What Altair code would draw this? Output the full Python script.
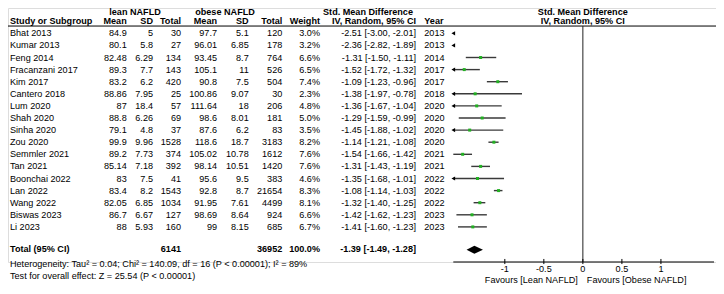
import altair as alt
import pandas as pd

# ---------------- data ----------------
studies = ["Bhat 2013", "Kumar 2013", "Feng 2014", "Fracanzani 2017", "Kim 2017",
           "Cantero 2018", "Lum 2020", "Shah 2020", "Sinha 2020", "Zou 2020",
           "Semmler 2021", "Tan 2021", "Boonchai 2022", "Lan 2022", "Wang 2022",
           "Biswas 2023", "Li 2023"]
lean_mean = [84.9, 80.1, 82.48, 89.3, 83.2, 88.86, 87, 88.8, 79.1, 99.9,
             89.2, 85.14, 83, 83.4, 82.05, 86.7, 88]
lean_sd = [5, 5.8, 6.29, 7.7, 6.2, 7.95, 18.4, 6.26, 4.8, 9.96,
           7.73, 7.18, 7.5, 8.2, 6.85, 6.67, 5.93]
lean_total = [30, 27, 134, 143, 420, 25, 57, 69, 37, 1528,
              374, 392, 41, 1543, 1034, 127, 160]
obese_mean = [97.7, 96.01, 93.45, 105.1, 90.8, 100.86, 111.64, 98.6, 87.6, 118.6,
              105.02, 98.14, 95.6, 92.8, 91.95, 98.69, 99]
obese_sd = [5.1, 6.85, 8.7, 11, 7.5, 9.07, 18, 8.01, 6.2, 18.7,
            10.78, 10.51, 9.5, 8.7, 7.61, 8.64, 8.15]
obese_total = [120, 178, 764, 526, 504, 30, 206, 181, 83, 3183,
               1612, 1420, 383, 21654, 4499, 924, 685]
weights = [3.0, 3.2, 6.6, 6.5, 7.4, 2.3, 4.8, 5.0, 3.5, 8.2,
           7.6, 7.6, 4.6, 8.3, 8.1, 6.6, 6.7]
smd = [-2.51, -2.36, -1.31, -1.52, -1.09, -1.38, -1.36, -1.29, -1.45, -1.14,
       -1.54, -1.31, -1.35, -1.08, -1.32, -1.42, -1.41]
ci_lo = [-3.00, -2.82, -1.50, -1.72, -1.23, -1.97, -1.67, -1.59, -1.88, -1.21,
         -1.66, -1.43, -1.68, -1.14, -1.40, -1.62, -1.60]
ci_hi = [-2.01, -1.89, -1.11, -1.32, -0.96, -0.78, -1.04, -0.99, -1.02, -1.08,
         -1.42, -1.19, -1.01, -1.03, -1.25, -1.23, -1.23]
years = [2013, 2013, 2014, 2017, 2017, 2018, 2020, 2020, 2020, 2020,
         2021, 2021, 2022, 2022, 2022, 2023, 2023]

total_lean = 6141
total_obese = 36952
total_weight = 100.0
total_smd, total_lo, total_hi = -1.39, -1.49, -1.28
heterogeneity = "Heterogeneity: Tau\u00b2 = 0.04; Chi\u00b2 = 140.09, df = 16 (P < 0.00001); I\u00b2 = 89%"
overall_test = "Test for overall effect: Z = 25.54 (P < 0.00001)"
tick_values = [-1.0, -0.5, 0.0, 0.5, 1.0]
tick_labels = ["-1", "-0.5", "0", "0.5", "1"]
axis_extent = [-1.66, 1.68]
favours_left = "Favours [Lean NAFLD]"
favours_right = "Favours [Obese NAFLD]"

# ---------------- layout ----------------
FONT = "Liberation Sans"
FS = 9.1
W, H = 708, 254
XMIN, XMAX = axis_extent
XR0, XR1 = 445.3, 706.0

yscale = alt.Scale(domain=[0, 16], range=[25.3, 218.9], zero=False, nice=False)
xscale = alt.Scale(domain=axis_extent, range=[XR0, XR1], zero=False, nice=False)

ROW_TOTAL = 17.85
ROW_HET = 19.07
ROW_TEST = 20.07
ROW_FAV = 20.39
ROW_HEADLINE = -0.6
ROW_AXIS = 18.9
ROW_TICKLAB = 19.52

n = len(studies)
df = pd.DataFrame({
    "row": list(range(n)),
    "study": studies,
    "lm": [f"{v:g}" for v in lean_mean],
    "ls": [f"{v:g}" for v in lean_sd],
    "lt": [str(v) for v in lean_total],
    "om": [f"{v:g}" for v in obese_mean],
    "os": [f"{v:g}" for v in obese_sd],
    "ot": [str(v) for v in obese_total],
    "w": [f"{v:.1f}%" for v in weights],
    "ci": [f"{e:.2f} [{l:.2f}, {h:.2f}]" for e, l, h in zip(smd, ci_lo, ci_hi)],
    "year": [str(y) for y in years],
    "est": smd,
    "lo": ci_lo,
    "hi": ci_hi,
})
df["lo_c"] = df["lo"].clip(lower=XMIN, upper=XMAX)
df["hi_c"] = df["hi"].clip(lower=XMIN, upper=XMAX)


def tcol(data, field, x, align, bold=False):
    return alt.Chart(data).mark_text(
        align=align, baseline="middle", font=FONT, fontSize=FS,
        fontWeight="bold" if bold else "normal", color="black"
    ).encode(
        x=alt.value(x),
        y=alt.Y("row:Q", scale=yscale, axis=None),
        text=alt.Text(f"{field}:N"),
    )


def ttext(text, x, row, align, bold=False):
    d = pd.DataFrame({"row": [row], "t": [text]})
    return tcol(d, "t", x, align, bold)


layers = []

# table columns
cols = [("study", 2, "left"), ("lm", 118.7, "right"), ("ls", 145, "right"),
        ("lt", 173, "right"), ("om", 209, "right"), ("os", 240.7, "right"),
        ("ot", 274.3, "right"), ("w", 312, "right"), ("ci", 408, "right"),
        ("year", 416.3, "left")]
for f, x, a in cols:
    layers.append(tcol(df, f, x, a))

# headers
H1, H2 = -1.76, -1.02
for t, x, a in [("lean NAFLD", 127, "center"), ("obese NAFLD", 217, "center"),
                ("Std. Mean Difference", 360, "center"),
                ("Std. Mean Difference", 574.8, "center")]:
    layers.append(ttext(t, x, H1, a, True))
for t, x, a in [("Study or Subgroup", 2, "left"), ("Mean", 118.7, "right"),
                ("SD", 145, "right"), ("Total", 173, "right"),
                ("Mean", 209, "right"), ("SD", 240.7, "right"),
                ("Total", 274.3, "right"), ("Weight", 312, "right"),
                ("IV, Random, 95% CI", 408, "right"), ("Year", 416.3, "left"),
                ("IV, Random, 95% CI", 574.8, "center")]:
    layers.append(ttext(t, x, H2, a, True))

# total row
layers.append(ttext("Total (95% CI)", 2, ROW_TOTAL, "left", True))
layers.append(ttext(str(total_lean), 173, ROW_TOTAL, "right", True))
layers.append(ttext(str(total_obese), 274.3, ROW_TOTAL, "right", True))
layers.append(ttext(f"{total_weight:.1f}%", 312, ROW_TOTAL, "right", True))
layers.append(ttext(f"{total_smd:.2f} [{total_lo:.2f}, {total_hi:.2f}]", 408, ROW_TOTAL, "right", True))
layers.append(ttext(heterogeneity, 2, ROW_HET, "left"))
layers.append(ttext(overall_test, 2, ROW_TEST, "left"))

# header underline
layers.append(alt.Chart(pd.DataFrame({"r": [ROW_HEADLINE]})).mark_rule(color="black", strokeWidth=1).encode(
    x=alt.value(0), x2=alt.value(708), y=alt.Y("r:Q", scale=yscale, axis=None)))

# zero line
zl = pd.DataFrame({"zx": [0.0], "za": [ROW_HEADLINE], "zb": [ROW_AXIS]})
layers.append(alt.Chart(zl).mark_rule(color="#222222", strokeWidth=1).encode(
    x=alt.X("zx:Q", scale=xscale, axis=None),
    y=alt.Y("za:Q", scale=yscale, axis=None),
    y2=alt.Y2("zb")))

# CI lines
ci_df = df[df["hi_c"] > df["lo_c"]]
layers.append(alt.Chart(ci_df).mark_rule(color="#3a3a3a", strokeWidth=1.4).encode(
    x=alt.X("lo_c:Q", scale=xscale, axis=None), x2="hi_c:Q",
    y=alt.Y("row:Q", scale=yscale, axis=None)))

# arrows for clipped CIs
arr_df = df[df["lo"] < XMIN]
layers.append(alt.Chart(arr_df).mark_point(shape="triangle-left", filled=True, color="black",
                                           size=18, opacity=1, dx=2).encode(
    x=alt.X("lo_c:Q", scale=xscale, axis=None), y=alt.Y("row:Q", scale=yscale, axis=None)))

# squares
sq_df = df[(df["est"] >= XMIN) & (df["est"] <= XMAX)]
layers.append(alt.Chart(sq_df).mark_square(color="#22b022", size=9, opacity=1).encode(
    x=alt.X("est:Q", scale=xscale, axis=None), y=alt.Y("row:Q", scale=yscale, axis=None)))

# diamond
dia = pd.DataFrame({"x": [total_lo, total_smd, total_hi],
                    "ylo": [ROW_TOTAL + 0.03, ROW_TOTAL + 0.03 - 0.33, ROW_TOTAL + 0.03],
                    "yhi": [ROW_TOTAL + 0.03, ROW_TOTAL + 0.03 + 0.33, ROW_TOTAL + 0.03]})
layers.append(alt.Chart(dia).mark_area(color="black", orient="vertical", opacity=1).encode(
    x=alt.X("x:Q", scale=xscale, axis=None), y=alt.Y("ylo:Q", scale=yscale, axis=None), y2="yhi:Q"))

# axis domain line
dom = pd.DataFrame({"a": [XMIN], "b": [XMAX], "r": [ROW_AXIS]})
layers.append(alt.Chart(dom).mark_rule(color="black", strokeWidth=1).encode(
    x=alt.X("a:Q", scale=xscale, axis=None), x2="b:Q",
    y=alt.Y("r:Q", scale=yscale, axis=None)))

# ticks and labels; horizontal position follows the same linear x mapping
def xpix(v):
    return XR0 + (v - XMIN) / (XMAX - XMIN) * (XR1 - XR0)

for tv, lab in zip(tick_values, tick_labels):
    one = pd.DataFrame({"fr": [ROW_TICKLAB], "ta": [ROW_AXIS - 0.25], "tb": [ROW_AXIS + 0.17]})
    layers.append(alt.Chart(one).mark_rule(color="black", strokeWidth=1).encode(
        x=alt.value(xpix(tv)),
        y=alt.Y("ta:Q", scale=yscale, axis=None), y2=alt.Y2("tb")))
    layers.append(alt.Chart(one).mark_text(text=lab, align="center", baseline="middle",
                                           font=FONT, fontSize=FS, color="black").encode(
        x=alt.value(xpix(tv)), y=alt.Y("fr:Q", scale=yscale, axis=None)))

# favours labels
fav = pd.DataFrame({"fx": [0.0], "fr": [ROW_FAV]})
layers.append(alt.Chart(fav).mark_text(text=favours_left, align="right", baseline="middle", dx=-5,
                                       font=FONT, fontSize=FS, color="black").encode(
    x=alt.X("fx:Q", scale=xscale, axis=None), y=alt.Y("fr:Q", scale=yscale, axis=None)))
layers.append(alt.Chart(fav).mark_text(text=favours_right, align="left", baseline="middle", dx=4,
                                       font=FONT, fontSize=FS, color="black").encode(
    x=alt.X("fx:Q", scale=xscale, axis=None), y=alt.Y("fr:Q", scale=yscale, axis=None)))

chart = alt.layer(*layers).properties(
    width=W, height=H,
    autosize=alt.AutoSizeParams(type="none"),
    padding={"left": 0, "top": 0, "right": 0, "bottom": 30},
).configure_view(stroke=None, fill=None).configure(background="white")

chart.save("out.html", embed_options={"renderer": "svg", "actions": False})
